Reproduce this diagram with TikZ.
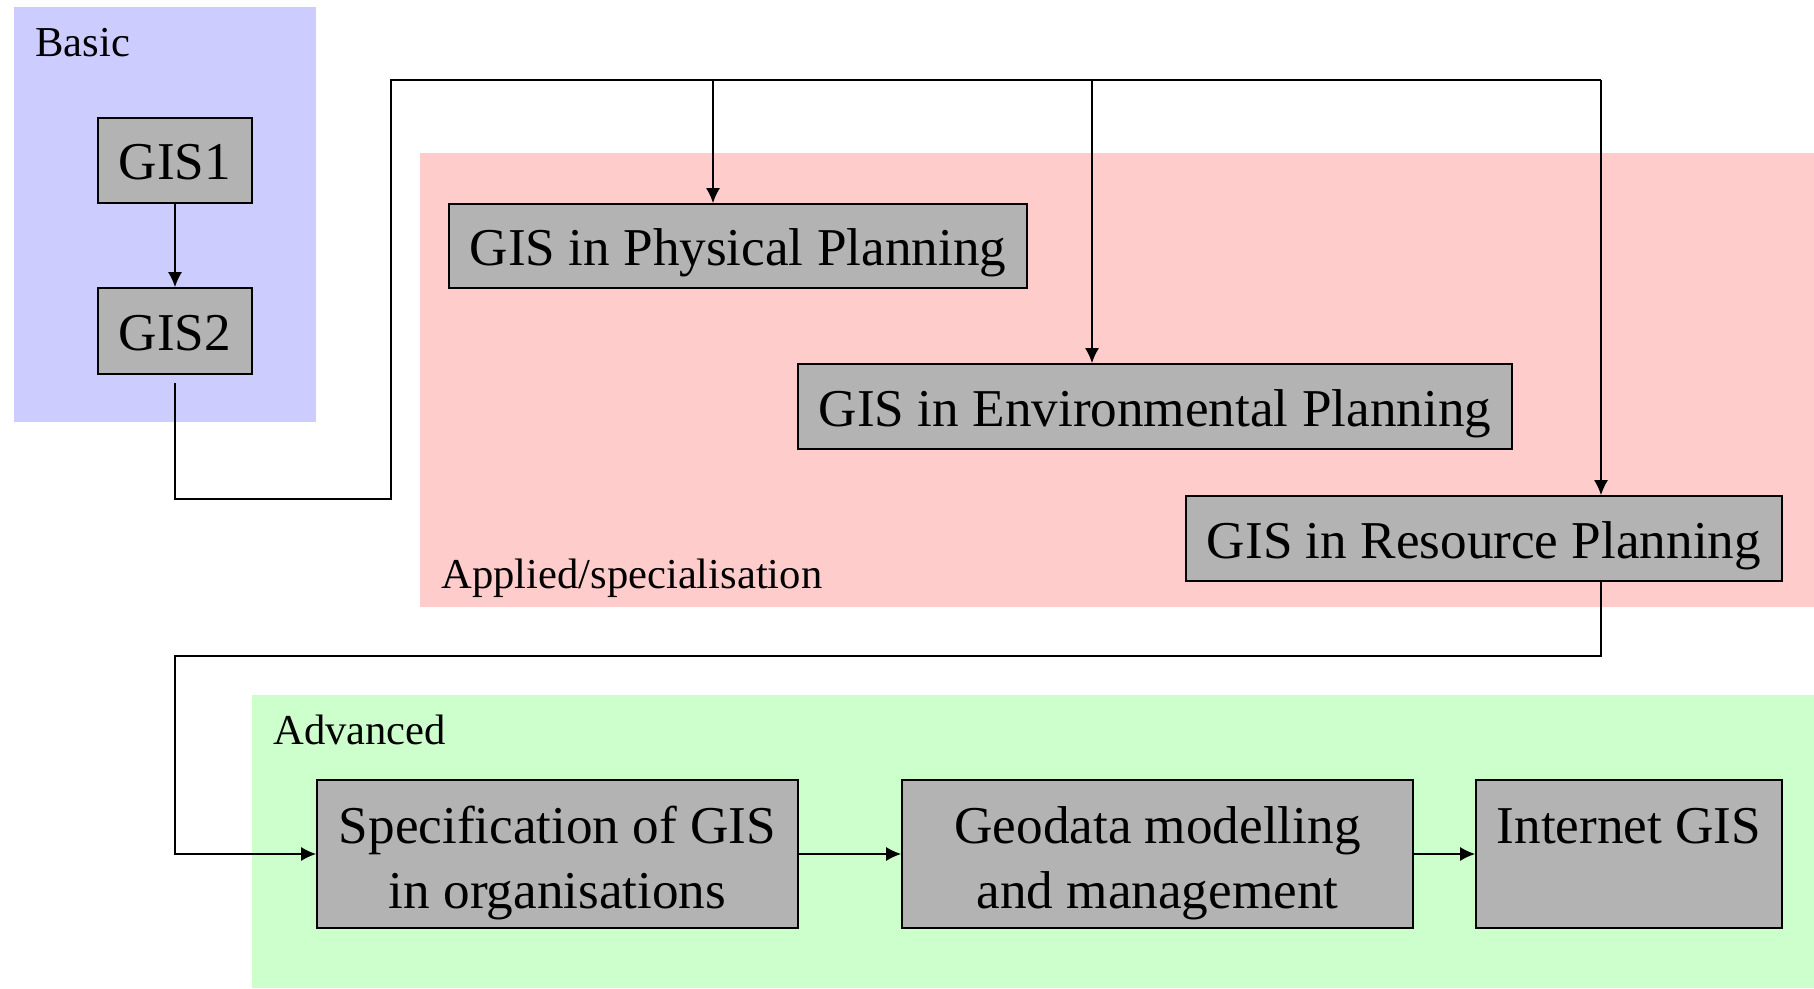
\documentclass[tikz,border=0pt]{standalone}
\usepackage{fontspec}
\setmainfont{Liberation Serif}
\usetikzlibrary{arrows.meta}
\definecolor{basicbg}{RGB}{204,204,255}
\definecolor{appliedbg}{RGB}{255,204,204}
\definecolor{advbg}{RGB}{204,255,204}
\definecolor{boxgray}{RGB}{179,179,179}
\newcommand{\firststrut}{\rule{0pt}{27.5pt}}
\newcommand{\laststrut}{\rule[-6pt]{0pt}{6pt}}
\begin{document}
\begin{tikzpicture}[x=0.5pt,y=-0.5pt,
  box/.style={draw=black, fill=boxgray, line width=0.9pt, inner sep=0pt,
    font=\fontsize{26.6}{32.5}\selectfont, align=center},
  onebox/.style={box, text height=19.5pt, text depth=0pt},
  conn/.style={line width=0.7pt},
  arr/.style={conn, -{Latex[length=7.5pt,width=7pt]}},
  lab/.style={anchor=base west, inner sep=0pt, font=\fontsize{21.3}{25}\selectfont}]
\useasboundingbox (0,0) rectangle (1814,989);
% backgrounds
\fill[basicbg] (14,7) rectangle (316,422);
\fill[appliedbg] (420,153) rectangle (1814,607);
\fill[advbg] (252,695) rectangle (1814,988);
% labels
\node[lab] (lbasic) at (35,57) {Basic};
\node[lab] (lapplied) at (441,588) {Applied/specialisation};
\node[lab] (ladv) at (273,744) {Advanced};
% nodes
\node[onebox, minimum width=77pt, minimum height=42.5pt] (gis1) at (175,160.5) {GIS1};
\node[onebox, minimum width=77pt, minimum height=43pt] (gis2) at (175,331) {GIS2};
\node[onebox, minimum width=289pt, minimum height=42pt] (phys) at (738,246) {GIS in Physical Planning};
\node[onebox, minimum width=357pt, minimum height=42.5pt] (env) at (1155,406.5) {GIS in Environmental Planning};
\node[onebox, minimum width=298pt, minimum height=42.5pt] (res) at (1484,538.5) {GIS in Resource Planning};
\node[box, minimum width=240.5pt, minimum height=74pt] (spec) at (557.5,854) {\firststrut Specification of GIS\\in organisations\laststrut};
\node[box, minimum width=255.5pt, minimum height=74pt] (geo) at (1157.5,854) {\firststrut Geodata modelling\\and management\laststrut};
\node[box, minimum width=153pt, minimum height=74pt] (inet) at (1629,854) {\firststrut Internet GIS\\\laststrut};
% connectors
\draw[arr] (gis1) -- (gis2);
\coordinate (b1) at (391,499);
\coordinate (t1) at (391,80);
\coordinate (tp) at (713,80);
\coordinate (te) at (1092,80);
\coordinate (tr) at (1601,80);
\draw[conn, shorten <=4pt] (gis2.south) |- (b1) -- (t1) -- (tr);
\draw[arr] (tp) -- (tp |- phys.north);
\draw[arr] (te) -- (te |- env.north);
\draw[arr] (tr) -- (tr |- res.north);
\coordinate (rb) at (1601,656);
\coordinate (lb) at (175,656);
\draw[arr] (rb |- res.south) -- (rb) -- (lb) |- (spec.west);
\draw[arr] (spec) -- (geo);
\draw[arr] (geo) -- (inet);
\end{tikzpicture}
\end{document}
